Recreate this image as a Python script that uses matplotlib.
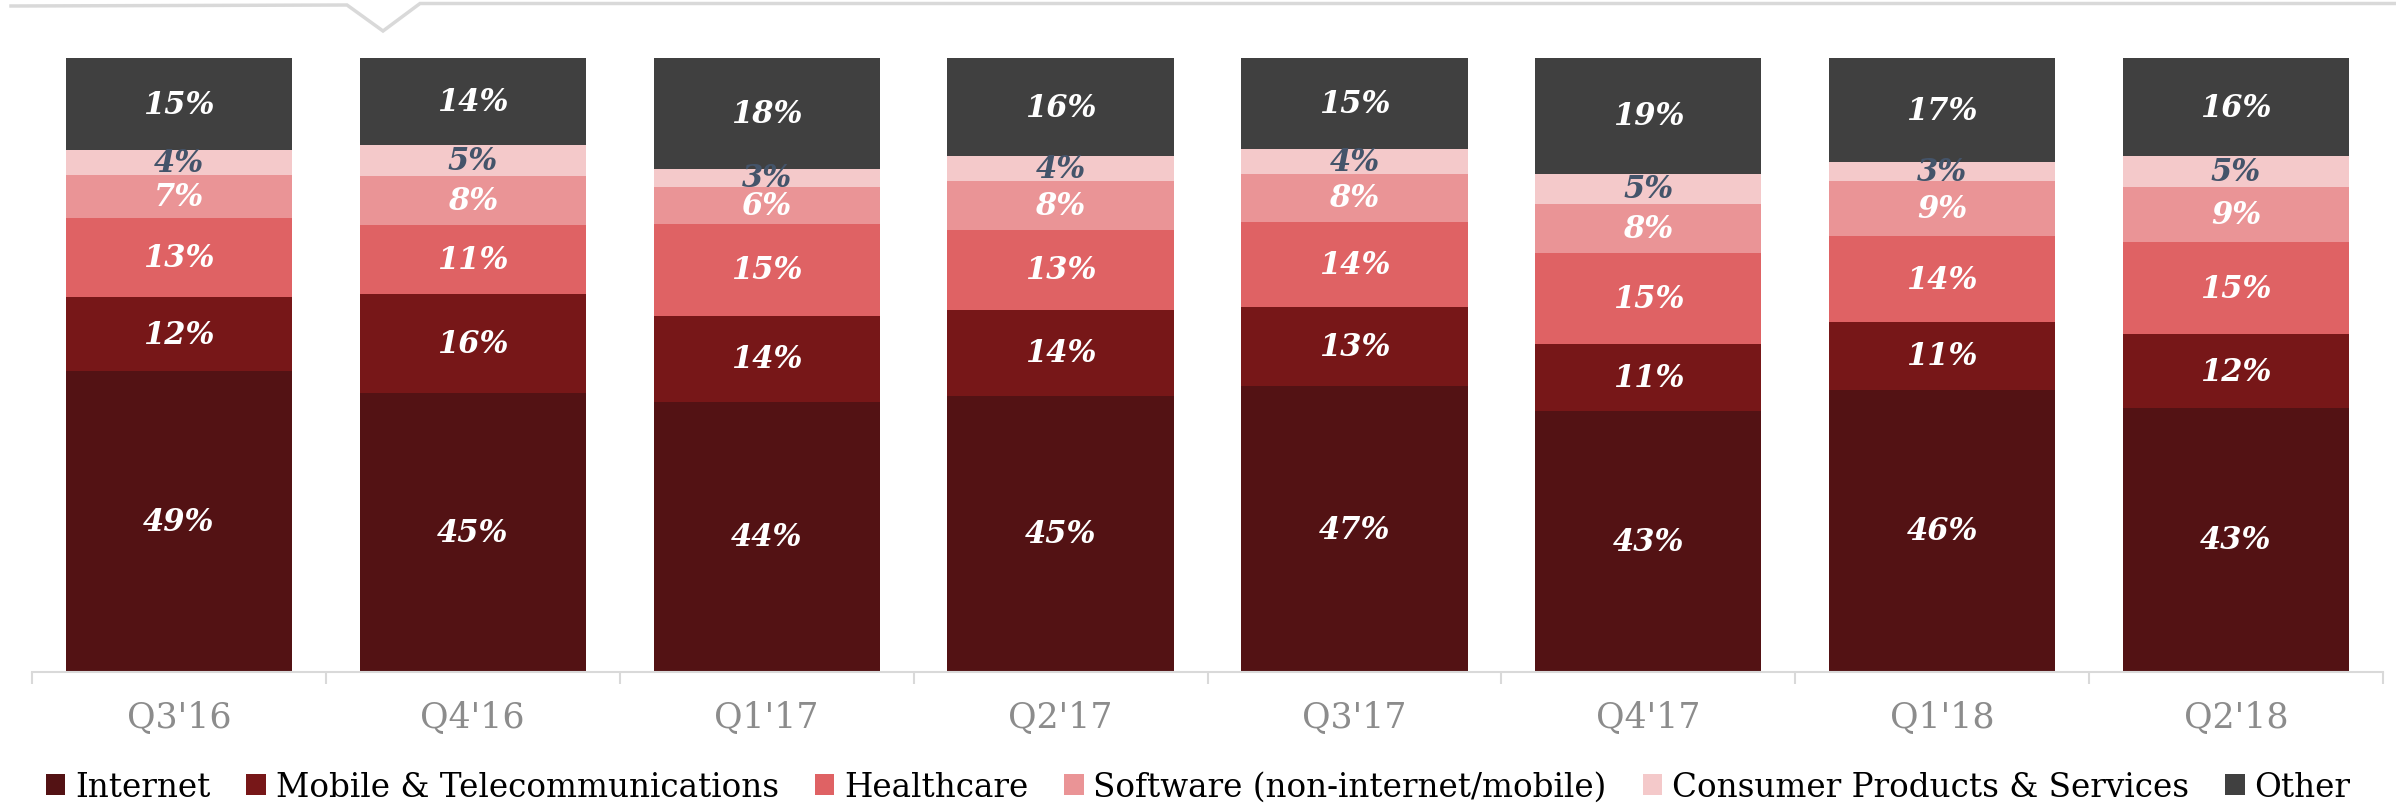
import numpy as np
import matplotlib.pyplot as plt
from matplotlib.lines import Line2D

quarters = ["Q3'16", "Q4'16", "Q1'17", "Q2'17", "Q3'17", "Q4'17", "Q1'18", "Q2'18"]

internet = [49, 45, 44, 45, 47, 43, 46, 43]
mobile = [12, 16, 14, 14, 13, 11, 11, 12]
healthcare = [13, 11, 15, 13, 14, 15, 14, 15]
software = [7, 8, 6, 8, 8, 8, 9, 9]
consumer = [4, 5, 3, 4, 4, 5, 3, 5]
other = [15, 14, 18, 16, 15, 19, 17, 16]

series = [
    ('Internet', internet, '#531214', 'white'),
    ('Mobile & Telecommunications', mobile, '#771718', 'white'),
    ('Healthcare', healthcare, '#DF6264', 'white'),
    ('Software (non-internet/mobile)', software, '#EA9496', 'white'),
    ('Consumer Products & Services', consumer, '#F4C9CA', '#44546A'),
    ('Other', other, '#404040', 'white'),
]

W, H = 2396, 804
fig = plt.figure(figsize=(W / 100, H / 100), dpi=100)
ax = fig.add_axes([32 / W, 1 - 673 / H, 2351 / W, (673 - 59) / H])

x = np.arange(len(quarters))
totals = np.sum([s[1] for s in series], axis=0)
bottom = np.zeros(len(quarters))
for name, vals, color, tcolor in series:
    frac = np.array(vals) / totals
    ax.bar(x, frac, width=0.77, bottom=bottom, color=color, label=name, linewidth=0)
    for xi, b, f, v in zip(x, bottom, frac, vals):
        ax.text(xi, b + f / 2, f'{v}%', ha='center', va='center', color=tcolor,
                fontsize=22, fontweight='bold', fontstyle='italic', family='DejaVu Serif')
    bottom += frac

ax.set_xlim(-0.5, len(quarters) - 0.5)
ax.set_ylim(0, 1)
ax.set_yticks([])
for side in ['left', 'right', 'top']:
    ax.spines[side].set_visible(False)
ax.spines['bottom'].set_color('#D9D9D9')
ax.spines['bottom'].set_linewidth(1.5)

ax.set_xticks(x)
ax.set_xticklabels(quarters, fontsize=25, color='#8C8C8C', family='DejaVu Serif')
ax.tick_params(axis='x', which='major', length=0, pad=20)
ax.set_xticks(np.arange(-0.5, len(quarters)), minor=True)
ax.tick_params(axis='x', which='minor', length=8.5, width=1.5, color='#D9D9D9')

fig.legend(loc='center', bbox_to_anchor=(0.5, 1 - 788 / H), ncol=6, frameon=False,
           prop={'family': 'DejaVu Serif', 'size': 23.5}, handlelength=0.6, handleheight=0.6,
           handletextpad=0.3, columnspacing=1.1, borderaxespad=0)

# decorative top line with notch
px = [11, 347, 383, 420, 2396]
py = [7, 6, 32, 4.5, 4.5]
fig.add_artist(Line2D([p / W for p in px], [1 - p / H for p in py], transform=fig.transFigure,
                      color='#D9D9D9', linewidth=2.5, solid_joinstyle='miter'))

fig.savefig('out.png', dpi=100)
